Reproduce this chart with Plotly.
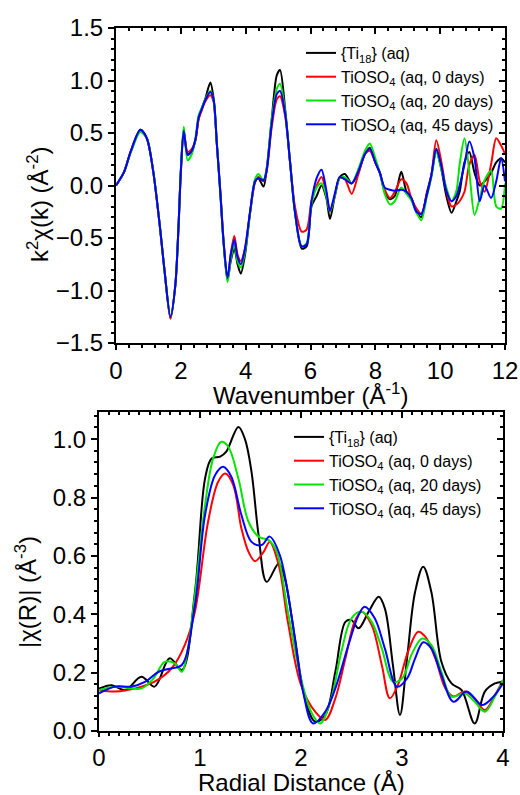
import plotly.graph_objects as go

# ---- top panel: k^2 chi(k) ----
k = [0, 0.25, 0.45, 0.75, 0.95, 1.15, 1.35, 1.5, 1.68, 1.83, 1.93, 2.0, 2.09, 2.21, 2.34,
     2.45, 2.55, 2.65, 2.75, 2.91, 3.01, 3.11, 3.22, 3.32, 3.44, 3.54, 3.65, 3.75, 3.85,
     3.98, 4.14, 4.29, 4.39, 4.55, 4.65, 4.8, 4.96, 5.06, 5.22, 5.37, 5.52, 5.73, 5.88,
     6.03, 6.19, 6.34, 6.49, 6.6, 6.75, 6.9, 7.06, 7.27, 7.47, 7.68, 7.83, 8.0, 8.14,
     8.29, 8.45, 8.6, 8.8, 8.96, 9.11, 9.27, 9.42, 9.58, 9.73, 9.88, 10.04, 10.19, 10.35,
     10.5, 10.6, 10.75, 10.9, 11.06, 11.22, 11.37, 11.57, 11.73, 11.88, 12.0]

chi_ti18 = [0.0, 0.13, 0.32, 0.53, 0.45, 0.13, -0.38, -0.82, -1.26, -0.95, -0.38, 0.13, 0.52,
            0.30, 0.33, 0.43, 0.64, 0.74, 0.82, 0.98, 0.83, 0.40, -0.08, -0.55, -0.90, -0.72,
            -0.60, -0.75, -0.84, -0.66, -0.25, 0.04, 0.07, -0.01, 0.16, 0.62, 1.05, 1.10,
            0.72, 0.22, -0.25, -0.60, -0.58, -0.20, -0.10, 0.0, -0.12, -0.32, -0.10, 0.08,
            0.11, 0.02, 0.12, 0.30, 0.36, 0.22, 0.12, -0.06, -0.13, -0.10, 0.13, -0.06, -0.12,
            -0.25, -0.30, -0.08, 0.10, 0.33, 0.15, -0.10, -0.26, -0.15, -0.06, 0.22, 0.32,
            0.12, 0.0, 0.04, 0.12, 0.22, 0.26, 0.22]
chi_0d = [0.0, 0.13, 0.32, 0.52, 0.45, 0.13, -0.38, -0.82, -1.27, -0.95, -0.38, 0.13, 0.50,
          0.32, 0.35, 0.43, 0.63, 0.72, 0.80, 0.86, 0.80, 0.40, -0.06, -0.53, -0.90, -0.65,
          -0.48, -0.66, -0.72, -0.60, -0.25, 0.03, 0.08, 0.04, 0.14, 0.55, 0.82, 0.85, 0.66,
          0.22, -0.20, -0.44, -0.42, -0.15, 0.0, 0.08, -0.08, -0.25, -0.10, 0.07, 0.06,
          -0.08, 0.10, 0.30, 0.33, 0.22, 0.12, -0.04, -0.12, -0.06, 0.06, 0.02, -0.12, -0.22,
          -0.27, -0.10, 0.10, 0.43, 0.22, -0.05, -0.20, -0.18, -0.15, -0.06, 0.20, 0.29,
          0.04, -0.06, 0.20, 0.45, 0.38, 0.30]
chi_20d = [0.0, 0.13, 0.31, 0.51, 0.45, 0.13, -0.38, -0.82, -1.25, -0.95, -0.38, 0.15, 0.56,
           0.24, 0.30, 0.45, 0.67, 0.74, 0.82, 0.90, 0.82, 0.40, -0.08, -0.55, -0.92, -0.70,
           -0.56, -0.72, -0.78, -0.63, -0.25, 0.06, 0.11, 0.05, 0.17, 0.62, 0.92, 0.97, 0.70,
           0.22, -0.25, -0.58, -0.55, -0.18, -0.02, 0.02, -0.10, -0.25, -0.10, 0.07, 0.08,
           0.02, 0.15, 0.33, 0.40, 0.26, 0.12, -0.08, -0.18, -0.15, -0.02, -0.08, -0.14,
           -0.26, -0.33, -0.12, 0.08, 0.32, 0.15, -0.02, -0.15, -0.05, 0.20, 0.45, 0.13,
           -0.28, -0.12, 0.05, 0.14, -0.20, -0.22, 0.02]
chi_45d = [0.0, 0.13, 0.32, 0.53, 0.45, 0.13, -0.38, -0.82, -1.25, -0.95, -0.38, 0.13, 0.52,
           0.29, 0.33, 0.44, 0.65, 0.73, 0.81, 0.89, 0.82, 0.40, -0.07, -0.54, -0.88, -0.66,
           -0.52, -0.68, -0.75, -0.60, -0.24, 0.04, 0.07, 0.05, 0.15, 0.58, 0.87, 0.90, 0.68,
           0.22, -0.25, -0.58, -0.56, -0.15, 0.07, 0.15, -0.05, -0.24, -0.08, 0.08, 0.06,
           0.02, 0.13, 0.30, 0.35, 0.22, 0.12, -0.02, -0.04, -0.05, -0.04, -0.06, -0.12,
           -0.25, -0.27, -0.10, 0.10, 0.35, 0.18, -0.05, -0.15, -0.10, 0.0, 0.20, 0.42, 0.26,
           -0.15, 0.0, -0.12, 0.04, 0.26, 0.04]

# ---- bottom panel: |chi(R)| ----
r_ti18 = [0, 0.125, 0.26, 0.42, 0.55, 0.70, 0.82, 0.95, 1.05, 1.115, 1.2, 1.26, 1.38, 1.445,
          1.51, 1.58, 1.66, 1.78, 1.84, 1.94, 2.04, 2.14, 2.24, 2.34, 2.44, 2.5, 2.57, 2.67,
          2.77, 2.83, 2.91, 2.98, 3.05, 3.13, 3.21, 3.29, 3.39, 3.49, 3.59, 3.72, 3.82, 3.92, 4.0]
ft_ti18 = [0.145, 0.157, 0.14, 0.186, 0.152, 0.249, 0.209, 0.477, 0.865, 0.934, 0.94, 0.957,
           1.042, 1.0, 0.888, 0.671, 0.511, 0.574, 0.523, 0.317, 0.112, 0.032, 0.055, 0.203,
           0.374, 0.38, 0.352, 0.409, 0.46, 0.42, 0.226, 0.055, 0.249, 0.477, 0.563, 0.477,
           0.237, 0.163, 0.14, 0.026, 0.135, 0.163, 0.169]
r_0d = [0, 0.16, 0.36, 0.55, 0.72, 0.85, 0.95, 1.08, 1.18, 1.25, 1.33, 1.41, 1.48, 1.545,
        1.63, 1.69, 1.78, 1.87, 2.0, 2.14, 2.24, 2.34, 2.44, 2.53, 2.6, 2.7, 2.8, 2.88, 2.96,
        3.06, 3.16, 3.23, 3.33, 3.43, 3.51, 3.62, 3.72, 3.82, 3.92, 4.0]
ft_0d = [0.14, 0.135, 0.146, 0.169, 0.215, 0.295, 0.409, 0.717, 0.854, 0.882, 0.842, 0.694,
         0.614, 0.582, 0.614, 0.648, 0.568, 0.374, 0.158, 0.066, 0.038, 0.112, 0.249, 0.374,
         0.409, 0.363, 0.226, 0.112, 0.158, 0.272, 0.34, 0.323, 0.249, 0.146, 0.118, 0.135,
         0.112, 0.072, 0.123, 0.175]
r_20d = [0, 0.16, 0.42, 0.54, 0.65, 0.75, 0.82, 0.88, 0.95, 1.05, 1.13, 1.21, 1.28, 1.38,
         1.48, 1.58, 1.68, 1.76, 1.87, 2.0, 2.1, 2.19, 2.3, 2.4, 2.5, 2.6, 2.7, 2.8, 2.91,
         3.0, 3.1, 3.2, 3.29, 3.39, 3.49, 3.62, 3.72, 3.82, 3.92, 4.0]
ft_20d = [0.14, 0.152, 0.146, 0.18, 0.237, 0.232, 0.203, 0.283, 0.466, 0.774, 0.934, 0.991,
          0.974, 0.865, 0.717, 0.666, 0.654, 0.614, 0.409, 0.18, 0.066, 0.026, 0.112, 0.272,
          0.386, 0.409, 0.374, 0.283, 0.169, 0.18, 0.266, 0.317, 0.295, 0.203, 0.118, 0.129,
          0.1, 0.066, 0.118, 0.175]
r_45d = [0, 0.16, 0.32, 0.46, 0.59, 0.72, 0.82, 0.95, 1.05, 1.15, 1.23, 1.31, 1.41, 1.51,
         1.61, 1.69, 1.79, 1.91, 2.02, 2.12, 2.24, 2.34, 2.47, 2.57, 2.63, 2.73, 2.83, 2.95,
         3.05, 3.13, 3.21, 3.29, 3.39, 3.51, 3.64, 3.79, 3.89, 4.0]
ft_45d = [0.129, 0.152, 0.152, 0.169, 0.203, 0.215, 0.226, 0.432, 0.74, 0.877, 0.905, 0.871,
          0.74, 0.648, 0.637, 0.666, 0.603, 0.386, 0.135, 0.026, 0.066, 0.146, 0.295, 0.397,
          0.426, 0.386, 0.283, 0.152, 0.18, 0.249, 0.304, 0.283, 0.192, 0.1, 0.135, 0.089,
          0.112, 0.163]

names = ["{Ti<sub>18</sub>} (aq)", "TiOSO<sub>4</sub> (aq, 0 days)",
         "TiOSO<sub>4</sub> (aq, 20 days)", "TiOSO<sub>4</sub> (aq, 45 days)"]
colors = ["#000000", "#ff0000", "#00e600", "#0000ff"]

# body margin is removed in the page (post_script), so the figure fills the window
W, H = 520, 795


def px(x):
    return x / W


def py(y):
    return 1 - y / H


fig = go.Figure()

for y, name, c in zip([chi_ti18, chi_0d, chi_20d, chi_45d], names, colors):
    fig.add_trace(go.Scatter(x=k, y=y, mode="lines", name=name, legend="legend",
                             line=dict(color=c, width=2, shape="spline", smoothing=0.8),
                             xaxis="x", yaxis="y"))

for x, y, name, c in zip([r_ti18, r_0d, r_20d, r_45d], [ft_ti18, ft_0d, ft_20d, ft_45d],
                         names, colors):
    fig.add_trace(go.Scatter(x=x, y=y, mode="lines", name=name, legend="legend2",
                             line=dict(color=c, width=2, shape="spline", smoothing=1.0),
                             xaxis="x2", yaxis="y2"))

# invisible traces so the mirror axes (inside ticks on top/right) get drawn
fig.add_trace(go.Scatter(x=[k[0]], y=[chi_ti18[0]], mode="markers", marker=dict(opacity=0),
                         xaxis="x3", yaxis="y3", showlegend=False, hoverinfo="skip"))
fig.add_trace(go.Scatter(x=[r_ti18[0]], y=[ft_ti18[0]], mode="markers", marker=dict(opacity=0),
                         xaxis="x4", yaxis="y4", showlegend=False, hoverinfo="skip"))

tickfont = dict(size=24, color="black")


def main_axis(dom, rng, dtick, mdtick, fmt=None, anchor=None, ticklen=6):
    d = dict(domain=dom, range=rng, dtick=dtick, tick0=0, ticks="outside", ticklen=ticklen,
             tickwidth=1.5, tickcolor="black",
             minor=dict(dtick=mdtick, ticks="outside", ticklen=3, tickwidth=1.5, tickcolor="black"),
             showline=True, linewidth=2, linecolor="black", mirror=True, showgrid=False,
             zeroline=False, tickfont=tickfont, automargin=False, anchor=anchor,
             ticklabeloverflow="allow")
    if fmt:
        d["tickformat"] = fmt
    return d


def mirror_axis(over, side, rng, dtick, mdtick, anchor):
    return dict(overlaying=over, side=side, anchor=anchor, range=rng, dtick=dtick, tick0=0,
                ticks="inside", ticklen=6, tickwidth=1.5, tickcolor="black",
                minor=dict(dtick=mdtick, ticks="inside", ticklen=3, tickwidth=1.5, tickcolor="black"),
                showticklabels=False, showline=False, showgrid=False, zeroline=False,
                automargin=False)


top_x = [px(116), px(505)]
top_y = [py(343), py(28)]
bot_x = [px(99), px(503)]
bot_y = [py(731), py(412)]

fig.update_layout(
    width=W, height=H,
    margin=dict(l=0, r=0, t=0, b=0),
    paper_bgcolor="white", plot_bgcolor="white",
    font=dict(family="Liberation Sans, Arial, sans-serif", color="black"),
    xaxis=main_axis(top_x, [0, 12], 2, 0.4, anchor="y", ticklen=5),
    yaxis=main_axis(top_y, [-1.5, 1.5], 0.5, 0.1, fmt=".1f", anchor="x"),
    xaxis2=main_axis(bot_x, [0, 4], 1, 0.1, anchor="y2", ticklen=4),
    yaxis2=main_axis(bot_y, [0, 1.093], 0.2, 0.04, fmt=".1f", anchor="x2"),
    xaxis3=mirror_axis("x", "top", [0, 12], 2, 0.4, "y"),
    yaxis3=mirror_axis("y", "right", [-1.5, 1.5], 0.5, 0.1, "x"),
    xaxis4=mirror_axis("x2", "top", [0, 4], 1, 0.1, "y2"),
    yaxis4=mirror_axis("y2", "right", [0, 1.093], 0.2, 0.04, "x2"),
    legend=dict(x=px(301), y=py(36), xanchor="left", yanchor="top",
                bgcolor="rgba(0,0,0,0)", font=dict(size=16), tracegroupgap=0),
    legend2=dict(x=px(289), y=py(420), xanchor="left", yanchor="top",
                 bgcolor="rgba(0,0,0,0)", font=dict(size=16), tracegroupgap=0),
    showlegend=True,
    annotations=[
        dict(text="Wavenumber (Å<sup>-1</sup>)", x=px(310), y=py(394), xref="paper",
             yref="paper", showarrow=False, font=dict(size=24), xanchor="center", yanchor="middle"),
        dict(text="k<sup>2</sup>χ(k) (Å<sup>-2</sup>)", x=px(38), y=py(204), xref="paper",
             yref="paper", showarrow=False, font=dict(size=24), textangle=-90,
             xanchor="center", yanchor="middle"),
        dict(text="Radial Distance (Å)", x=px(301), y=py(782), xref="paper",
             yref="paper", showarrow=False, font=dict(size=24), xanchor="center", yanchor="middle"),
        dict(text="|χ(R)| (Å<sup>-3</sup>)", x=px(26), y=py(592), xref="paper",
             yref="paper", showarrow=False, font=dict(size=24), textangle=-90,
             xanchor="center", yanchor="middle"),
    ],
)

fig.write_html("out.html", config={"displayModeBar": False},
               post_script="document.body.style.margin = '0';")
